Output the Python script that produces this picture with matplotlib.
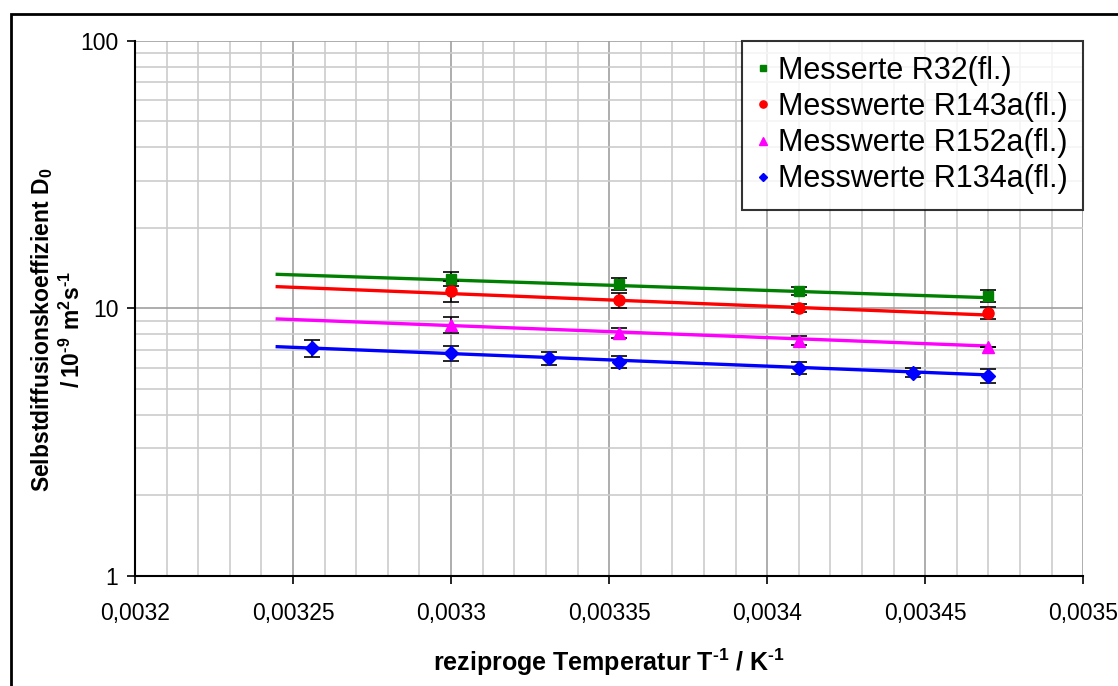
import numpy as np
import matplotlib
matplotlib.use('Agg')
import matplotlib.pyplot as plt
from matplotlib.ticker import FixedLocator, FuncFormatter, NullFormatter
from matplotlib.patches import Rectangle

plt.rcParams['font.family'] = ['Liberation Sans', 'DejaVu Sans']
plt.rcParams['mathtext.fontset'] = 'custom'
plt.rcParams['mathtext.rm'] = 'Liberation Sans'
plt.rcParams['mathtext.bf'] = 'Liberation Sans:bold'

# Messpunkte (1/T in 1/K, D0 in 1e-9 m^2/s)
x_r32 = [0.0033, 0.003353, 0.00341, 0.00347]
d_r32 = [12.88, 12.33, 11.61, 11.12]
e_r32 = [0.75, 0.6, 0.4, 0.55]

x_r143a = [0.0033, 0.003353, 0.00341, 0.00347]
d_r143a = [11.6, 10.75, 10.0, 9.63]
e_r143a = [1.05, 0.7, 0.35, 0.5]

x_r152a = [0.0033, 0.003353, 0.00341, 0.00347]
d_r152a = [8.67, 8.09, 7.57, 7.19]
e_r152a = [0.6, 0.35, 0.3, 0.0]

x_r134a = [0.003256, 0.0033, 0.003331, 0.003353, 0.00341, 0.003446, 0.00347]
d_r134a = [7.09, 6.79, 6.51, 6.32, 6.0, 5.75, 5.60]
e_r134a = [0.5, 0.45, 0.36, 0.34, 0.3, 0.22, 0.35]

# Ausgleichsgeraden (Anfang / Ende)
x_fit = [0.003245, 0.00347]
fit_r32 = [13.4, 10.96]
fit_r143a = [12.05, 9.44]
fit_r152a = [9.13, 7.23]
fit_r134a = [7.19, 5.64]

xticks = [0.0032, 0.00325, 0.0033, 0.00335, 0.0034, 0.00345, 0.0035]
xticklabels = ['0,0032', '0,00325', '0,0033', '0,00335', '0,0034', '0,00345', '0,0035']

fig = plt.figure(figsize=(11.18, 6.86), dpi=100)
ax = fig.add_axes([135/1118, 1 - 576/686, (1083.3 - 135)/1118, (576 - 40.7)/686])

ax.set_yscale('log')
ax.set_xlim(0.0032, 0.0035)
ax.set_ylim(1, 100)

# Gitter
ax.xaxis.set_major_locator(FixedLocator(xticks))
ax.xaxis.set_minor_locator(FixedLocator(np.arange(0.0032, 0.00350001, 0.00001)))
ax.set_xticklabels(xticklabels)
ax.yaxis.set_major_locator(FixedLocator([1, 10, 100]))
ax.yaxis.set_major_formatter(FuncFormatter(lambda v, p: '%d' % v))
ax.yaxis.set_minor_locator(FixedLocator([k * 10**e for e in (0, 1) for k in range(2, 10)]))
ax.yaxis.set_minor_formatter(NullFormatter())
ax.grid(which='major', color='#a0a0a0', lw=1.2)
ax.grid(which='minor', color='#cccccc', lw=1.2)
ax.set_axisbelow(True)
ax.tick_params(which='major', direction='out', length=6, width=1.2, labelsize=16.5)
ax.tick_params(axis='x', pad=13)
ax.tick_params(axis='y', pad=6)
ax.tick_params(which='minor', length=0)
ax.spines['top'].set_visible(False)
ax.spines['right'].set_visible(False)
ax.spines['left'].set_linewidth(1.5)
ax.spines['bottom'].set_linewidth(1.5)

# Ausgleichsgeraden
ax.plot(x_fit, fit_r32, color='#008000', lw=2.4, zorder=2)
ax.plot(x_fit, fit_r143a, color='#ff0000', lw=2.4, zorder=2)
ax.plot(x_fit, fit_r152a, color='#ff00ff', lw=2.4, zorder=2)
ax.plot(x_fit, fit_r134a, color='#0000ff', lw=2.4, zorder=2)

# Messwerte mit Fehlerbalken
ebkw = dict(ls='none', ecolor='black', elinewidth=1.2, capsize=5.5, capthick=1.2, zorder=3)
ax.errorbar(x_r32, d_r32, yerr=e_r32, fmt='s', color='#008000', ms=7.5,
            label='Messerte R32(fl.)', **ebkw)
ax.errorbar(x_r143a, d_r143a, yerr=e_r143a, fmt='o', color='#ff0000', ms=8,
            label='Messwerte R143a(fl.)', **ebkw)
ax.errorbar(x_r152a, d_r152a, yerr=e_r152a, fmt='^', color='#ff00ff', ms=8.5,
            label='Messwerte R152a(fl.)', **ebkw)
ax.errorbar(x_r134a, d_r134a, yerr=e_r134a, fmt='D', color='#0000ff', ms=7,
            label='Messwerte R134a(fl.)', **ebkw)

# Legende nur mit Markern
handles, labels = ax.get_legend_handles_labels()
handles = [h[0] for h in handles]
leg = ax.legend(handles, labels, loc='upper right', fontsize=22, frameon=True,
                fancybox=False, borderaxespad=0, markerscale=0.65,
                handlelength=0.4, handletextpad=0.3, labelspacing=0.2,
                borderpad=0.5)
leg.get_frame().set_edgecolor('black')
leg.get_frame().set_linewidth(1.5)

ax.set_xlabel('reziproge Temperatur T$^{\\mathbf{\u20101}}$ / K$^{\\mathbf{\u20101}}$',
              fontsize=18, fontweight='bold', labelpad=15)
fig.text(57/1118, 1 - 330/686,
         'Selbstdiffusionskoeffizient D$_{\\mathbf{0}}$\n'
         '$\\mathbf{/\\,10^{\u20109}\\ m^{2}s^{\u20101}}$',
         rotation=90, ha='center', va='center', fontsize=16.5,
         fontweight='bold', multialignment='center', linespacing=1.25)

# äußerer Rahmen
fig.patches.append(Rectangle((11/1118, -0.5), 2.0, 0.5 + 1 - 14/686,
                             transform=fig.transFigure, fill=False,
                             edgecolor='black', lw=2))

fig.savefig('out.png', dpi=100)
